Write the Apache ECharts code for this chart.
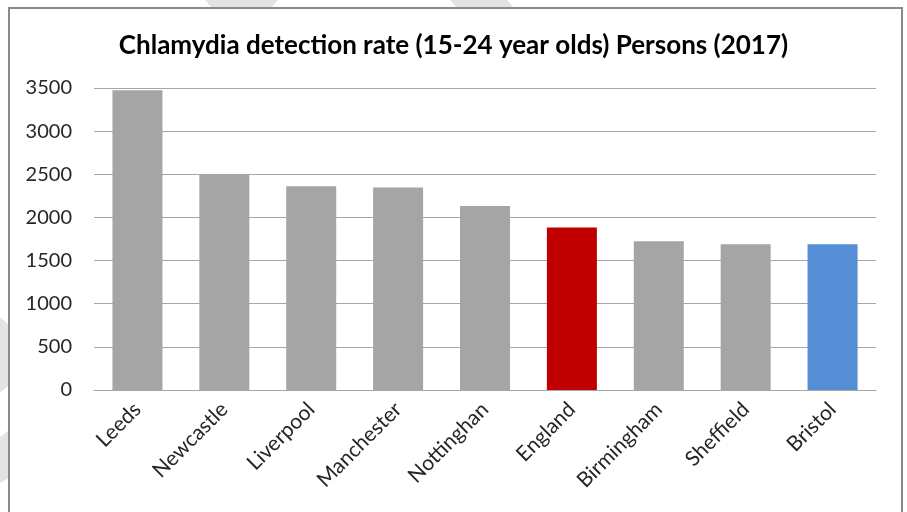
<!DOCTYPE html>
<html>
<head>
<meta charset="utf-8">
<script src="https://cdn.jsdelivr.net/npm/echarts@6/dist/echarts.min.js"></script>
<style>
html,body{margin:0;padding:0;background:#fff;}
#chart{width:907px;height:512px;}
</style>
</head>
<body>
<div id="chart"></div>
<script>
const titleText = 'Chlamydia detection rate (15-24 year olds) Persons (2017)';
const categories = ['Leeds','Newcastle','Liverpool','Manchester','Nottinghan','England','Birmingham','Sheffield','Bristol'];
const values = [3475, 2500, 2360, 2347, 2133, 1882, 1725, 1690, 1690];
const barColors = ['#A5A5A5','#A5A5A5','#A5A5A5','#A5A5A5','#A5A5A5','#C00000','#A5A5A5','#A5A5A5','#558ED5'];
const yTicks = [0, 500, 1000, 1500, 2000, 2500, 3000, 3500];

const chart = echarts.init(document.getElementById('chart'), null, {renderer:'canvas'});
const font = 'Lato, "Open Sans", sans-serif';
chart.setOption({
  animation: false,
  backgroundColor: '#ffffff',
  graphic: [
    {type:'polygon', z:-10, shape:{points:[[205,0],[278,0],[270,9],[213,9]]}, style:{fill:'#e3e3e3'}},
    {type:'polygon', z:-10, shape:{points:[[450,0],[507,0],[515,9],[458,9]]}, style:{fill:'#e3e3e3'}},
    {type:'polygon', z:-10, shape:{points:[[0,317],[9,325],[9,385],[0,393]]}, style:{fill:'#e3e3e3'}},
    {type:'polygon', z:-10, shape:{points:[[0,437],[9,430],[9,478],[0,483]]}, style:{fill:'#e3e3e3'}},
    {type:'rect', z:-5, shape:{x:9, y:8, width:893, height:520}, style:{fill:'#ffffff', stroke:'#8a8a8a', lineWidth:2}}
  ],
  title: {
    text: titleText,
    left: 'center',
    top: 28,
    textStyle: {fontFamily: font, fontWeight: 'bold', fontSize: 26, color: '#000'}
  },
  grid: {left: 94, right: 31, top: 88, bottom: 122, containLabel: false},
  xAxis: {
    type: 'category',
    data: categories,
    axisLine: {lineStyle: {color: '#a6a6a6', width: 1}},
    axisTick: {show: false},
    axisLabel: {rotate: 45, fontFamily: font, fontSize: 21, color: '#262626', margin: 16, interval: 0}
  },
  yAxis: {
    type: 'value',
    min: 0,
    max: 3500,
    interval: 500,
    axisLine: {show: false},
    axisTick: {show: false},
    splitLine: {lineStyle: {color: '#a6a6a6', width: 1}},
    axisLabel: {fontFamily: font, fontSize: 20, color: '#262626', margin: 22,
      formatter: v => yTicks.includes(v) ? String(v) : ''}
  },
  series: [{
    type: 'bar',
    barWidth: 50,
    data: values.map((v, i) => ({value: v, itemStyle: {color: barColors[i]}}))
  }]
});
</script>
</body>
</html>
